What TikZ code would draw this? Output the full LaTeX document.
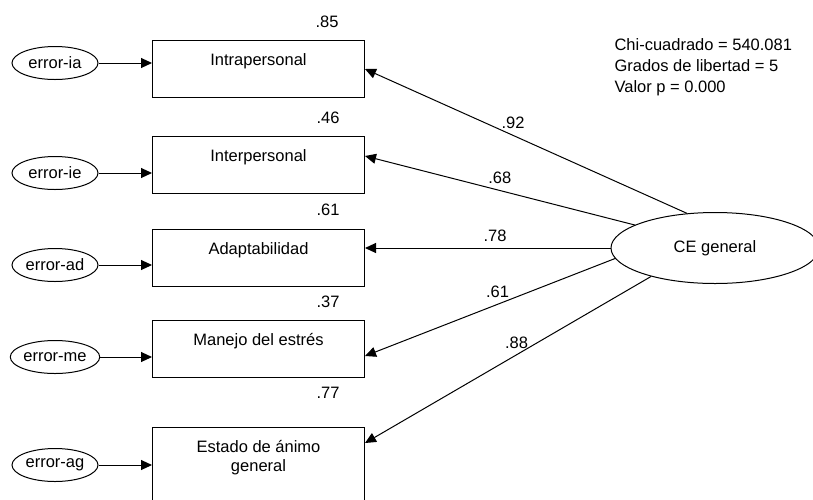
\documentclass[tikz,border=0pt]{standalone}
\usepackage{fontspec}
\setmainfont{Liberation Sans}
\usetikzlibrary{shapes.geometric, arrows.meta}

\tikzset{
	obsbox/.style={draw, line width=1pt, minimum width=212pt, inner xsep=0pt, inner ysep=0pt, text height=25pt, text depth=32pt, align=center, anchor=north west},
	errell/.style={draw, ellipse, line width=1pt, minimum width=86pt, minimum height=33pt, inner sep=0pt},
	path/.style={->, line width=1pt},
	coef/.style={above=6pt, inner sep=0pt}
}

\begin{document}
\begin{tikzpicture}[x=1pt, y=-1pt, every node/.style={font=\fontsize{16.5}{19}\selectfont}, >={Triangle[length=11pt, width=10pt]}]
	\clip (0,0) rectangle (813,499);

	\node[obsbox] (ia) at (152,40) {Intrapersonal};
	\node[obsbox] (ie) at (152,136) {Interpersonal};
	\node[obsbox] (ad) at (152,229) {Adaptabilidad};
	\node[obsbox] (me) at (152,320) {Manejo del estrés};
	\node[obsbox, text height=44pt, text depth=36pt] (ag) at (152,427) {Estado de ánimo\\general};

	\node[errell] (eia) at (55,63) {error-ia};
	\node[errell] (eie) at (55,173) {error-ie};
	\node[errell] (ead) at (55,265) {error-ad};
	\node[errell] (eme) at (55,357) {error-me};
	\node[errell] (eag) at (55,465) {error-ag};

	\node[draw, ellipse, line width=1pt, minimum width=208pt, minimum height=71pt, inner sep=0pt] (ce) at (715,248) {CE general};

	\node at (327,22) {.85};
	\node at (328,118) {.46};
	\node at (328,210) {.61};
	\node at (328,302) {.37};
	\node at (328,393) {.77};

	\node[anchor=north west, align=left, font=\fontsize{16.5}{21}\selectfont] (stats) at (611,35) {Chi-cuadrado = 540.081\\Grados de libertad = 5\\Valor p = 0.000};

	\draw[path] (eia) -- (eia -| ia.west);
	\draw[path] (eie) -- (eie -| ie.west);
	\draw[path] (ead) -- (ead -| ad.west);
	\draw[path] (eme) -- (eme -| me.west);
	\draw[path] (eag) -- (eag -| ag.west);

	\draw[path] (ce.129) -- (ia.east) node[coef, pos=0.54] {.92};
	\draw[path] (ce.164) -- ([yshift=9pt]ie.east) node[coef, pos=0.5] {.68};
	\draw[path] (ce.180) -- ([yshift=10pt]ad.east) node[coef, pos=0.47] {.78};
	\draw[path] (ce.186) -- ([yshift=-7pt]me.east) node[coef, pos=0.47] {.61};
	\draw[path] (ce.204) -- ([yshift=-16pt]ag.north east) node[coef, pos=0.47] {.88};
\end{tikzpicture}
\end{document}
